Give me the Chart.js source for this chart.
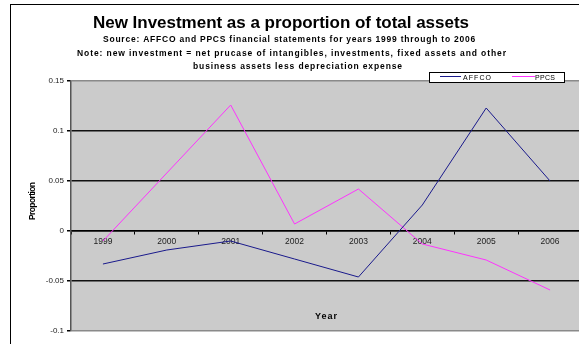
<!DOCTYPE html>
<html>
<head>
<meta charset="utf-8">
<script src="https://cdn.jsdelivr.net/npm/chart.js@4.4.1/dist/chart.umd.min.js"></script>
<style>
  html, body { margin: 0; padding: 0; background: #fff; overflow: hidden; }
  #wrap { position: relative; width: 600px; height: 344px; }
</style>
</head>
<body>
<div id="wrap"><canvas id="myChart"></canvas></div>
<script>
// data
const years = ['1999', '2000', '2001', '2002', '2003', '2004', '2005', '2006'];
const affco = [-0.033, -0.019, -0.010, -0.028, -0.046, 0.026, 0.123, 0.050];
const ppcs = [-0.010, 0.058, 0.126, 0.007, 0.042, -0.013, -0.029, -0.059];
const seriesNames = ['AFFCO', 'PPCS'];
const yMin = -0.1, yMax = 0.15, yStep = 0.05;

const FONT = 'Arial, "Liberation Sans", sans-serif';

// draws text so it spans x0..x1 (the original uses wide letter spacing)
function fitText(ctx, text, x0, x1, y, font) {
    ctx.save();
    ctx.font = font;
    ctx.textAlign = 'left';
    ctx.textBaseline = 'alphabetic';
    const w = ctx.measureText(text).width;
    const ls = (x1 - x0 - w) / (text.length - 1);
    ctx.letterSpacing = ls.toFixed(2) + 'px';
    ctx.fillText(text, x0, y);
    ctx.restore();
}

const decor = {
    id: 'decor',
    beforeDraw(chart) {
        const ctx = chart.ctx, a = chart.chartArea;
        ctx.save();
        ctx.fillStyle = '#cbcbcb';
        ctx.fillRect(a.left, a.top, a.right - a.left, a.bottom - a.top);
        ctx.restore();
    },
    afterDraw(chart) {
        const ctx = chart.ctx;
        ctx.save();
        // outer chart border
        ctx.strokeStyle = '#000';
        ctx.lineWidth = 1;
        ctx.strokeRect(10.5, 4.5, 700, 500);
        ctx.fillStyle = '#000';
        fitText(ctx, 'New Investment as a proportion of total assets', 93, 469, 27.5, 'bold 17px ' + FONT);
        fitText(ctx, 'Source: AFFCO and PPCS financial statements for years 1999 through to 2006', 103, 475, 42, 'bold 8.5px ' + FONT);
        fitText(ctx, 'Note: new investment = net prucase of intangibles, investments, fixed assets and other', 77, 506, 56, 'bold 8.5px ' + FONT);
        fitText(ctx, 'business assets less depreciation expense', 193, 402, 69, 'bold 8.5px ' + FONT);

        // axis titles
        ctx.save();
        ctx.translate(35, 201);
        ctx.rotate(-Math.PI / 2);
        fitText(ctx, 'Proportion', -19, 19, 0, 'bold 8.5px ' + FONT);
        ctx.restore();
        fitText(ctx, 'Year', 315, 337, 319, 'bold 9px ' + FONT);

        // legend
        ctx.fillStyle = '#fff';
        ctx.fillRect(429.5, 72.5, 135, 10);
        ctx.strokeStyle = '#000';
        ctx.strokeRect(429.5, 72.5, 135, 10);
        const items = [
            { x: 440, x2: 461, tx: 463, tx2: 491 },
            { x: 512, x2: 535, tx: 535, tx2: 555 }
        ];
        chart.data.datasets.forEach((ds, i) => {
            const it = items[i];
            ctx.strokeStyle = ds.borderColor;
            ctx.lineWidth = 1;
            ctx.beginPath();
            ctx.moveTo(it.x, 76.5);
            ctx.lineTo(it.x2, 76.5);
            ctx.stroke();
            ctx.fillStyle = '#000';
            fitText(ctx, ds.label, it.tx, it.tx2, 79.5, '7px ' + FONT);
        });
        ctx.restore();
    }
};

function near(v, t) { return Math.abs(v - t) < 1e-6; }

new Chart('myChart', {
    type: 'line',
    data: {
        labels: years,
        datasets: [
            { label: seriesNames[0], data: affco, borderColor: '#1a1a8c', borderWidth: 1, pointRadius: 0, tension: 0, fill: false },
            { label: seriesNames[1], data: ppcs, borderColor: '#ff33ff', borderWidth: 1, pointRadius: 0, tension: 0, fill: false }
        ]
    },
    options: {
        responsive: true,
        maintainAspectRatio: false,
        animation: false,
        layout: { padding: { left: 0, top: 81, right: 18, bottom: 13 } },
        plugins: {
            legend: { display: false },
            title: { display: false },
            tooltip: { enabled: false }
        },
        scales: {
            x: {
                type: 'category',
                axis: 'x',
                position: { y: 0 },
                offset: true,
                grid: { offset: true, drawOnChartArea: false, drawTicks: true, tickLength: 3, tickColor: '#000' },
                border: { display: true, color: '#000', width: 1.5 },
                ticks: { color: '#222', font: { family: FONT, size: 8.5 }, padding: 3, maxRotation: 0, autoSkip: false }
            },
            y: {
                min: yMin,
                max: yMax,
                afterFit(scale) { scale.width = 71; },
                grid: {
                    color: ctx => (near(ctx.tick.value, yMax) || near(ctx.tick.value, yMin)) ? '#8a8a8a' : '#111',
                    lineWidth: 1.5,
                    drawTicks: true,
                    tickLength: 4,
                    tickColor: '#000'
                },
                border: { display: true, color: '#555', width: 1.5 },
                ticks: {
                    stepSize: yStep,
                    color: '#222',
                    padding: 3,
                    font: { family: FONT, size: 8 },
                    callback: v => String(Math.round(v * 100) / 100)
                }
            }
        }
    },
    plugins: [decor]
});
</script>
</body>
</html>
